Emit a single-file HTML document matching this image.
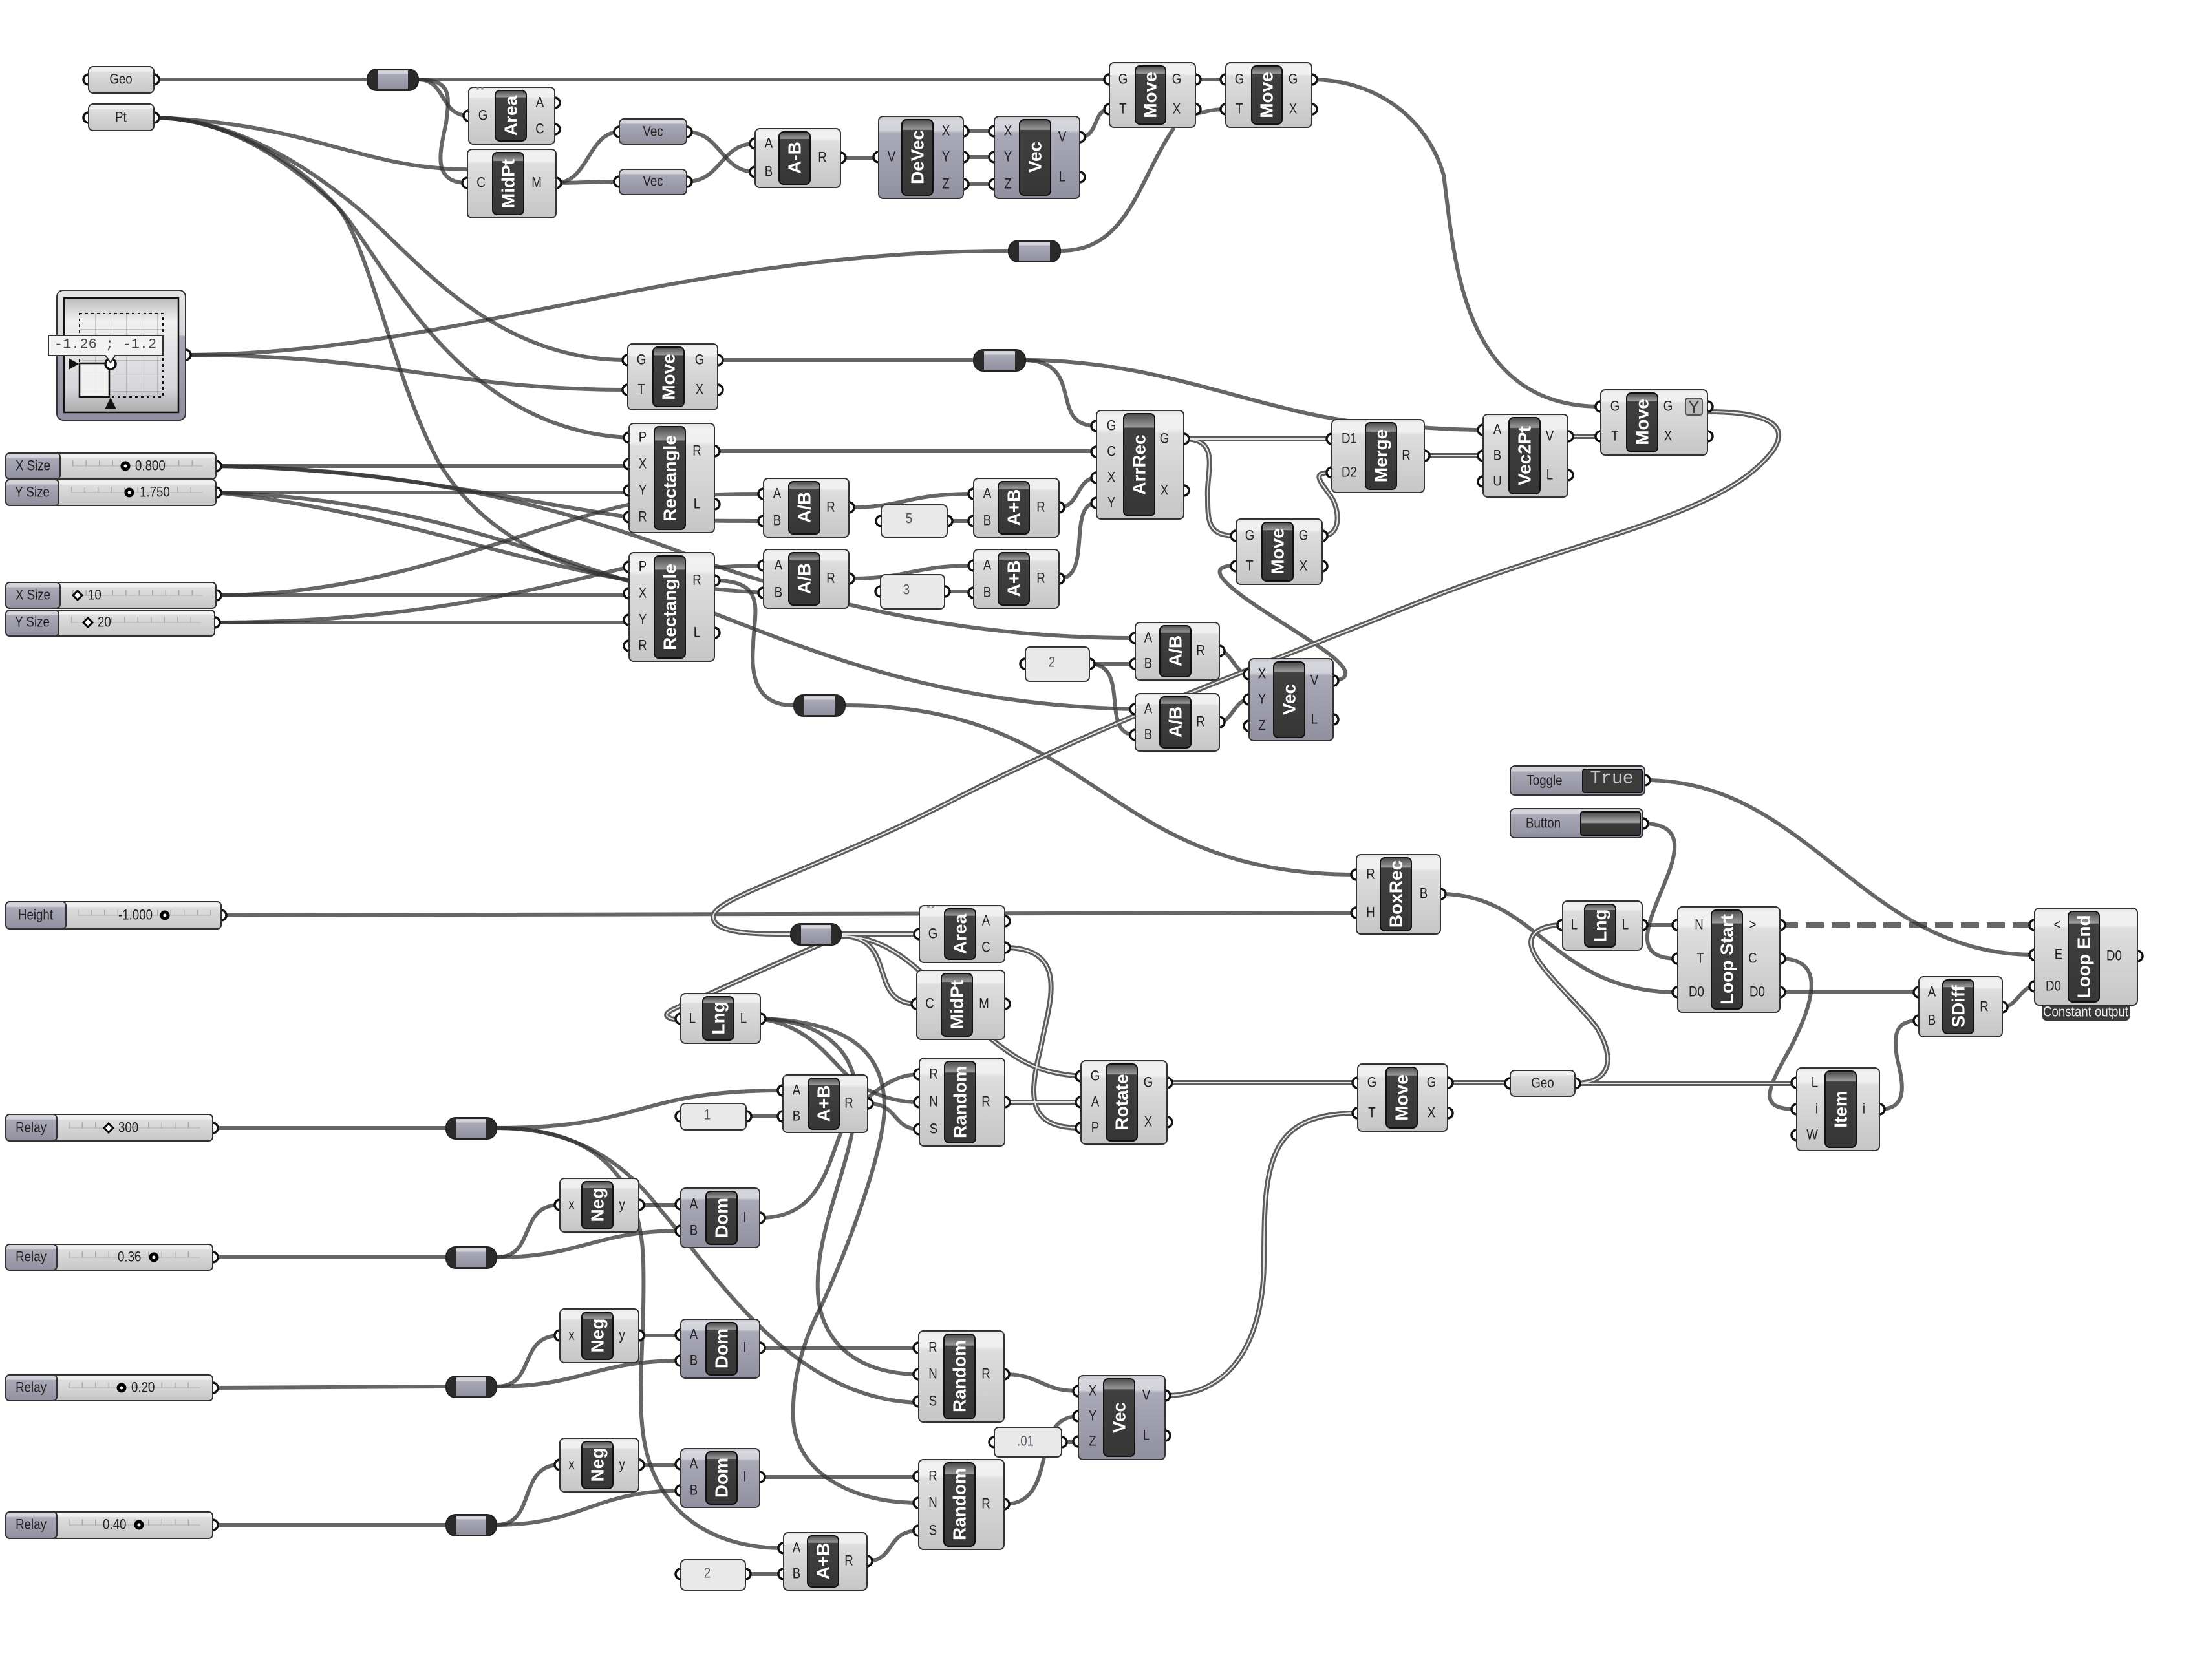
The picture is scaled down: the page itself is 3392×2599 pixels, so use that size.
<!DOCTYPE html>
<html><head><meta charset="utf-8"><style>
html,body{margin:0;padding:0;background:#fff}
svg{display:block}
.w path{fill:none;stroke:#333;stroke-opacity:.75;stroke-width:6;stroke-linecap:round}
.dw{fill:none}
.g circle{fill:#fff;stroke:#111;stroke-width:3.5}
.n{fill:url(#gn);stroke:#333;stroke-width:2}
.p{fill:url(#gp);stroke:#333;stroke-width:2}
.c{fill:url(#gc);stroke:#111;stroke-width:2}
.f{fill:#e9e9e9;stroke:#333;stroke-width:2}
text{font-family:"Liberation Sans",sans-serif;text-anchor:middle;dominant-baseline:central;fill:#222}
.l{font-size:22px;transform-box:fill-box;transform-origin:center;transform:scaleX(.85)}
.t{font-weight:bold;font-size:28px;fill:#fff}
.m{font-size:22px;fill:#556;transform-box:fill-box;transform-origin:center;transform:scaleX(.85)}
.v{font-size:22px;text-anchor:start;transform-box:fill-box;transform-origin:left center;transform:scaleX(.85)}
.tk{fill:none;stroke:#aaa;stroke-width:9;stroke-dasharray:1.5 19}
.tl{fill:none;stroke:#bbb;stroke-width:1.5}
.th{fill:#fff;stroke:#000;stroke-width:5}
.rd{fill:#2b2b2b;stroke:#222;stroke-width:2}
.ri{fill:url(#gp)}
</style></head><body>
<svg xmlns="http://www.w3.org/2000/svg" width="3392" height="2599" viewBox="0 0 3392 2599">
<defs>
<linearGradient id="gn" x1="0" y1="0" x2="0" y2="1"><stop offset="0" stop-color="#e2e2e2"/><stop offset=".05" stop-color="#f1f1f1"/><stop offset=".17" stop-color="#f0f0f0"/><stop offset=".21" stop-color="#dedede"/><stop offset="1" stop-color="#c6c6c6"/></linearGradient>
<linearGradient id="gp" x1="0" y1="0" x2="0" y2="1"><stop offset="0" stop-color="#c4c4cc"/><stop offset=".05" stop-color="#d6d6dd"/><stop offset=".17" stop-color="#d2d2da"/><stop offset=".21" stop-color="#a9a9b8"/><stop offset="1" stop-color="#90909f"/></linearGradient>
<linearGradient id="gc" x1="0" y1="0" x2="0" y2="1"><stop offset="0" stop-color="#4a4a4a"/><stop offset=".13" stop-color="#9a9a9a"/><stop offset=".14" stop-color="#404040"/><stop offset="1" stop-color="#363636"/></linearGradient>
<linearGradient id="gb" x1="0" y1="0" x2="0" y2="1"><stop offset="0" stop-color="#444"/><stop offset=".45" stop-color="#aaa"/><stop offset=".5" stop-color="#3c3c3c"/><stop offset="1" stop-color="#333"/></linearGradient>
<linearGradient id="gm" x1="0" y1="0" x2="0" y2="1"><stop offset="0" stop-color="#e6e6e6"/><stop offset=".34" stop-color="#d6d6dc"/><stop offset=".36" stop-color="#a6a6b4"/><stop offset="1" stop-color="#8e8e9e"/></linearGradient>
<linearGradient id="gi" x1="0" y1="0" x2="0" y2="1"><stop offset="0" stop-color="#bbb"/><stop offset=".2" stop-color="#f0f0f0"/><stop offset=".8" stop-color="#d4d4da"/><stop offset="1" stop-color="#aaa"/></linearGradient>
<pattern id="gr" width="24" height="24" patternUnits="userSpaceOnUse" x="123" y="485"><path d="M0 0H24M0 0V24" stroke="#999" stroke-width="1" fill="none"/></pattern>
<g id="dbl">
<path d="M2641 637C2740 637 2770 660 2740 700C2660 800 2450 830 2191 933C1900 1050 1700 1120 1450 1250C1250 1350 1103 1390 1103 1418C1103 1445 1170 1445 1223 1445"/>
<path d="M1301 1445H1422"/>
<path d="M1301 1448C1390 1448 1340 1553 1418 1553"/>
<path d="M1301 1448C1400 1448 1450 1540 1534 1608C1580 1645 1610 1660 1672 1665"/>
<path d="M1301 1448C1280 1455 1180 1500 1098 1537C1060 1555 1020 1565 1034 1574C1040 1578 1048 1577 1053 1577"/>
<path d="M1554 1466C1660 1466 1620 1560 1610 1620C1590 1700 1590 1745 1672 1745"/>
<path d="M1554 1705H1672"/>
<path d="M1805 1675H2100"/>
<path d="M1802 2159C1920 2159 1955 2050 1955 1950C1955 1800 1960 1722 2100 1722"/>
<path d="M2239 1675H2336"/>
<path d="M2436 1676H2779"/>
<path d="M2436 1676C2490 1676 2500 1640 2470 1590C2440 1550 2368 1490 2368 1458C2368 1440 2390 1431 2417 1431"/>
<path d="M1831 679H2060"/>
<path d="M1831 679C1890 679 1865 730 1868 770C1868 810 1870 829 1912 829"/>
<path d="M2045 829C2075 829 2072 790 2060 770C2038 740 2030 731 2060 731"/>
<path d="M2203 705H2294"/>
<path d="M2425 675H2476"/>
</g>
</defs>

<!-- wires -->
<g class="w">
<path d="M238 123H568"/><path d="M647 123H1716"/>
<path d="M647 123C690 123 680 179 725 179"/>
<path d="M647 123C700 123 695 150 690 190C682 230 665 283 723 283"/>
<path d="M238 182C480 190 560 262 723 262"/>
<path d="M860 283C910 283 910 204 958 204"/>
<path d="M860 283C900 283 915 281 958 281"/>
<path d="M1062 204C1115 204 1115 266 1168 266"/>
<path d="M1062 281C1115 281 1115 222 1168 222"/>
<path d="M1300 244H1359"/>
<path d="M1490 203H1538"/><path d="M1490 243H1538"/><path d="M1490 285H1538"/>
<path d="M1670 212C1700 212 1690 169 1716 169"/>
<path d="M1640 388C1745 388 1760 280 1815 199"/>
<path d="M1849 123H1896"/><path d="M1849 176C1870 172 1875 169 1896 169"/>
<path d="M2029 123C2120 123 2205 175 2233 271C2250 400 2260 629 2476 629"/>
<path d="M287 549C700 549 1050 388 1560 388"/>
<path d="M287 549C600 549 700 603 971 603"/>
<path d="M238 182C340 182 450 235 557 325C640 395 760 558 971 557"/>
<path d="M238 182C340 182 430 235 521 319C590 390 700 665 973 677"/>
<path d="M238 182C340 182 450 240 521 319C570 375 610 590 679 716C730 800 820 870 975 898C1040 885 1100 875 1181 875"/>
<path d="M334 721H973"/><path d="M334 762H973"/>
<path d="M334 721C600 725 800 775 973 800C1050 806 1120 806 1181 806"/>
<path d="M334 721C620 725 860 775 1106 875C1300 940 1500 987 1756 987"/>
<path d="M334 762C620 770 800 845 975 900C1200 980 1400 1090 1756 1097"/>
<path d="M334 762C600 790 760 860 975 898C1040 905 1100 912 1181 917"/>
<path d="M334 921H973"/>
<path d="M334 921C600 921 800 820 975 780C1050 765 1120 764 1181 764"/>
<path d="M332 963H973"/>
<path d="M332 963C600 963 780 925 973 877"/>
<path d="M1105 698H1696"/>
<path d="M1105 898C1190 898 1165 950 1165 1000C1160 1060 1180 1091 1226 1091"/>
<path d="M1465 806H1506"/>
<path d="M1313 785C1400 785 1400 764 1506 764"/>
<path d="M1638 785C1670 785 1665 739 1696 739"/>
<path d="M1638 895C1690 895 1650 778 1696 778"/>
<path d="M1313 895C1410 895 1410 875 1506 875"/>
<path d="M1461 915H1506"/>
<path d="M1685 1027H1756"/>
<path d="M1685 1027C1750 1027 1700 1137 1756 1137"/>
<path d="M1886 1007C1905 1007 1910 1043 1932 1043"/>
<path d="M1886 1117C1905 1117 1910 1082 1932 1082"/>
<path d="M2062 1053C2095 1050 2085 1030 2035 997C1990 966 1900 915 1888 890C1882 878 1895 875 1912 875"/>
<path d="M342 1416L2098 1412"/>
<path d="M1307 1091C1700 1091 1700 1353 2098 1353"/>
<path d="M2228 1383C2380 1383 2400 1535 2595 1535"/>
<path d="M2544 1207C2800 1207 2880 1477 3147 1477"/>
<path d="M2541 1274C2620 1274 2585 1340 2565 1390C2545 1440 2530 1483 2595 1483"/>
<path d="M2540 1431H2595"/>
<path d="M2753 1431H3147" style="stroke-dasharray:28 12;stroke-width:8;stroke-linecap:butt"/>
<path d="M2753 1483C2830 1483 2800 1560 2770 1620C2730 1690 2720 1716 2779 1716"/>
<path d="M2753 1535H2968"/>
<path d="M3097 1558C3120 1558 3125 1526 3147 1526"/>
<path d="M2907 1716C2950 1716 2945 1680 2935 1640C2925 1590 2940 1579 2968 1579"/>
<path d="M1586 557C1680 560 1620 659 1696 659"/>
<path d="M1586 557C1800 557 1950 640 2120 655C2180 660 2240 665 2294 665"/>
<path d="M1110 557H1506"/>
<path d="M1176 1884C1290 1884 1280 1760 1320 1720C1350 1690 1380 1662 1422 1662"/>
<path d="M1176 1576C1270 1590 1290 1660 1340 1685C1370 1700 1395 1705 1422 1705"/>
<path d="M1342 1707C1390 1707 1380 1747 1422 1747"/>
<path d="M1176 1576C1290 1580 1325 1640 1325 1700C1320 1800 1260 1900 1265 2000C1270 2080 1330 2126 1421 2126"/>
<path d="M1176 1576C1330 1580 1370 1640 1368 1720C1362 1800 1300 1960 1267 2027C1235 2090 1225 2150 1227 2196C1232 2280 1320 2325 1421 2325"/>
<path d="M1154 1727H1211"/>
<path d="M768 1745C1000 1745 980 1687 1211 1687"/>
<path d="M768 1745C900 1745 990 1800 995 1950C998 2060 985 2150 995 2220C1010 2330 1090 2395 1212 2395"/>
<path d="M768 1745C880 1745 960 1790 1020 1870C1100 1960 1220 2165 1421 2170"/>
<path d="M1341 2415C1385 2415 1370 2368 1421 2368"/>
<path d="M1153 2435H1212"/>
<path d="M1175 2085H1421"/><path d="M1175 2285H1421"/>
<path d="M1553 2126C1610 2126 1610 2152 1668 2152"/>
<path d="M1553 2327C1640 2327 1590 2191 1668 2191"/>
<path d="M1642 2231H1668"/>
<path d="M329 1745H690"/><path d="M329 1945H690"/><path d="M329 2147L690 2145"/><path d="M329 2359H690"/>
<path d="M768 1945C830 1945 800 1864 866 1864"/>
<path d="M768 1945C900 1945 920 1904 1053 1904"/>
<path d="M988 1864H1053"/>
<path d="M768 2145C830 2145 800 2066 866 2066"/>
<path d="M768 2145C900 2145 920 2105 1053 2105"/>
<path d="M988 2066H1053"/>
<path d="M768 2359C830 2359 800 2266 866 2266"/>
<path d="M768 2359C900 2359 920 2306 1053 2306"/>
<path d="M988 2266H1053"/>
</g>
<g class="dw"><use href="#dbl" stroke="#5c5c5c" stroke-width="8"/><use href="#dbl" stroke="#e6e6e6" stroke-width="2"/></g>

<!-- grips -->
<g class="g">
<circle cx="137" cy="123" r="8"/><circle cx="238" cy="123" r="8"/><circle cx="137" cy="182" r="8"/><circle cx="238" cy="182" r="8"/>
<circle cx="725" cy="179" r="8"/><circle cx="858" cy="159" r="8"/><circle cx="858" cy="200" r="8"/>
<circle cx="723" cy="283" r="8"/><circle cx="860" cy="283" r="8"/>
<circle cx="958" cy="204" r="8"/><circle cx="1062" cy="204" r="8"/><circle cx="958" cy="281" r="8"/><circle cx="1062" cy="281" r="8"/>
<circle cx="1168" cy="222" r="8"/><circle cx="1168" cy="266" r="8"/><circle cx="1300" cy="244" r="8"/>
<circle cx="1359" cy="243" r="8"/><circle cx="1490" cy="203" r="8"/><circle cx="1490" cy="243" r="8"/><circle cx="1490" cy="285" r="8"/>
<circle cx="1538" cy="203" r="8"/><circle cx="1538" cy="243" r="8"/><circle cx="1538" cy="285" r="8"/><circle cx="1670" cy="212" r="8"/><circle cx="1670" cy="274" r="8"/>
<circle cx="1716" cy="123" r="8"/><circle cx="1716" cy="169" r="8"/><circle cx="1849" cy="123" r="8"/><circle cx="1849" cy="169" r="8"/>
<circle cx="1896" cy="123" r="8"/><circle cx="1896" cy="169" r="8"/><circle cx="2029" cy="123" r="8"/><circle cx="2029" cy="169" r="8"/>
<circle cx="287" cy="549" r="8"/>
<circle cx="971" cy="557" r="8"/><circle cx="971" cy="603" r="8"/><circle cx="1110" cy="557" r="8"/><circle cx="1110" cy="603" r="8"/>
<circle cx="973" cy="677" r="8"/><circle cx="973" cy="718" r="8"/><circle cx="973" cy="759" r="8"/><circle cx="973" cy="800" r="8"/><circle cx="1105" cy="698" r="8"/><circle cx="1105" cy="780" r="8"/>
<circle cx="973" cy="877" r="8"/><circle cx="973" cy="918" r="8"/><circle cx="973" cy="959" r="8"/><circle cx="973" cy="999" r="8"/><circle cx="1105" cy="898" r="8"/><circle cx="1105" cy="979" r="8"/>
<circle cx="334" cy="721" r="8"/><circle cx="334" cy="762" r="8"/><circle cx="334" cy="921" r="8"/><circle cx="332" cy="963" r="8"/>
<circle cx="1181" cy="764" r="8"/><circle cx="1181" cy="806" r="8"/><circle cx="1313" cy="785" r="8"/>
<circle cx="1181" cy="875" r="8"/><circle cx="1181" cy="917" r="8"/><circle cx="1313" cy="895" r="8"/>
<circle cx="1506" cy="764" r="8"/><circle cx="1506" cy="806" r="8"/><circle cx="1638" cy="785" r="8"/>
<circle cx="1506" cy="875" r="8"/><circle cx="1506" cy="917" r="8"/><circle cx="1638" cy="895" r="8"/>
<circle cx="1363" cy="806" r="8"/><circle cx="1465" cy="806" r="8"/><circle cx="1362" cy="915" r="8"/><circle cx="1461" cy="915" r="8"/>
<circle cx="1696" cy="659" r="8"/><circle cx="1696" cy="699" r="8"/><circle cx="1696" cy="739" r="8"/><circle cx="1696" cy="778" r="8"/><circle cx="1831" cy="679" r="8"/><circle cx="1831" cy="759" r="8"/>
<circle cx="2060" cy="679" r="8"/><circle cx="2060" cy="731" r="8"/><circle cx="2203" cy="705" r="8"/>
<circle cx="2294" cy="665" r="8"/><circle cx="2294" cy="705" r="8"/><circle cx="2294" cy="745" r="8"/><circle cx="2425" cy="675" r="8"/><circle cx="2425" cy="735" r="8"/>
<circle cx="2476" cy="629" r="8"/><circle cx="2476" cy="675" r="8"/><circle cx="2641" cy="629" r="8"/><circle cx="2641" cy="675" r="8"/>
<circle cx="1912" cy="829" r="8"/><circle cx="1912" cy="876" r="8"/><circle cx="2045" cy="829" r="8"/><circle cx="2045" cy="876" r="8"/>
<circle cx="1756" cy="987" r="8"/><circle cx="1756" cy="1027" r="8"/><circle cx="1886" cy="1007" r="8"/>
<circle cx="1756" cy="1097" r="8"/><circle cx="1756" cy="1137" r="8"/><circle cx="1886" cy="1117" r="8"/>
<circle cx="1932" cy="1043" r="8"/><circle cx="1932" cy="1082" r="8"/><circle cx="1932" cy="1123" r="8"/><circle cx="2062" cy="1053" r="8"/><circle cx="2062" cy="1113" r="8"/>
<circle cx="1586" cy="1027" r="8"/><circle cx="1685" cy="1027" r="8"/>
<circle cx="2098" cy="1353" r="8"/><circle cx="2098" cy="1412" r="8"/><circle cx="2228" cy="1383" r="8"/>
<circle cx="342" cy="1416" r="8"/><circle cx="2544" cy="1207" r="8"/><circle cx="2541" cy="1274" r="8"/>
<circle cx="2417" cy="1431" r="8"/><circle cx="2540" cy="1431" r="8"/>
<circle cx="2595" cy="1431" r="8"/><circle cx="2595" cy="1483" r="8"/><circle cx="2595" cy="1535" r="8"/><circle cx="2753" cy="1431" r="8"/><circle cx="2753" cy="1483" r="8"/><circle cx="2753" cy="1535" r="8"/>
<circle cx="3147" cy="1431" r="8"/><circle cx="3147" cy="1477" r="8"/><circle cx="3147" cy="1526" r="8"/><circle cx="3306" cy="1479" r="8"/>
<circle cx="2968" cy="1535" r="8"/><circle cx="2968" cy="1579" r="8"/><circle cx="3097" cy="1558" r="8"/>
<circle cx="2779" cy="1675" r="8"/><circle cx="2779" cy="1716" r="8"/><circle cx="2779" cy="1756" r="8"/><circle cx="2907" cy="1716" r="8"/>
<circle cx="2336" cy="1676" r="8"/><circle cx="2436" cy="1676" r="8"/>
<circle cx="2100" cy="1675" r="8"/><circle cx="2100" cy="1722" r="8"/><circle cx="2239" cy="1675" r="8"/><circle cx="2239" cy="1722" r="8"/>
<circle cx="1422" cy="1445" r="8"/><circle cx="1554" cy="1425" r="8"/><circle cx="1554" cy="1466" r="8"/>
<circle cx="1418" cy="1553" r="8"/><circle cx="1554" cy="1553" r="8"/>
<circle cx="1053" cy="1576" r="8"/><circle cx="1176" cy="1576" r="8"/>
<circle cx="1211" cy="1687" r="8"/><circle cx="1211" cy="1727" r="8"/><circle cx="1342" cy="1707" r="8"/>
<circle cx="1053" cy="1727" r="8"/><circle cx="1154" cy="1727" r="8"/>
<circle cx="1422" cy="1662" r="8"/><circle cx="1422" cy="1705" r="8"/><circle cx="1422" cy="1747" r="8"/><circle cx="1554" cy="1705" r="8"/>
<circle cx="1672" cy="1665" r="8"/><circle cx="1672" cy="1705" r="8"/><circle cx="1672" cy="1745" r="8"/><circle cx="1805" cy="1675" r="8"/><circle cx="1805" cy="1736" r="8"/>
<circle cx="329" cy="1745" r="8"/><circle cx="329" cy="1945" r="8"/><circle cx="329" cy="2147" r="8"/><circle cx="329" cy="2359" r="8"/>
<circle cx="866" cy="1864" r="8"/><circle cx="988" cy="1864" r="8"/><circle cx="866" cy="2066" r="8"/><circle cx="988" cy="2066" r="8"/><circle cx="866" cy="2266" r="8"/><circle cx="988" cy="2266" r="8"/>
<circle cx="1053" cy="1863" r="8"/><circle cx="1053" cy="1904" r="8"/><circle cx="1175" cy="1884" r="8"/>
<circle cx="1053" cy="2065" r="8"/><circle cx="1053" cy="2105" r="8"/><circle cx="1175" cy="2085" r="8"/>
<circle cx="1053" cy="2265" r="8"/><circle cx="1053" cy="2306" r="8"/><circle cx="1175" cy="2285" r="8"/>
<circle cx="1212" cy="2395" r="8"/><circle cx="1212" cy="2435" r="8"/><circle cx="1341" cy="2415" r="8"/>
<circle cx="1053" cy="2435" r="8"/><circle cx="1153" cy="2435" r="8"/>
<circle cx="1421" cy="2085" r="8"/><circle cx="1421" cy="2126" r="8"/><circle cx="1421" cy="2168" r="8"/><circle cx="1553" cy="2126" r="8"/>
<circle cx="1421" cy="2284" r="8"/><circle cx="1421" cy="2325" r="8"/><circle cx="1421" cy="2368" r="8"/><circle cx="1553" cy="2327" r="8"/>
<circle cx="1668" cy="2152" r="8"/><circle cx="1668" cy="2191" r="8"/><circle cx="1668" cy="2230" r="8"/><circle cx="1802" cy="2159" r="8"/><circle cx="1802" cy="2221" r="8"/>
<circle cx="1538" cy="2231" r="8"/><circle cx="1642" cy="2231" r="8"/>
</g>

<!-- simple params -->
<rect class="n" x="137" y="103" width="101" height="41" rx="7"/><text class="l" x="187" y="123">Geo</text>
<rect class="n" x="137" y="161" width="101" height="41" rx="7"/><text class="l" x="187" y="182">Pt</text>
<rect class="p" x="958" y="184" width="104" height="39" rx="7"/><text class="l" x="1010" y="204">Vec</text>
<rect class="p" x="958" y="262" width="104" height="39" rx="7"/><text class="l" x="1010" y="281">Vec</text>
<rect class="n" x="2336" y="1656" width="100" height="40" rx="7"/><text class="l" x="2386" y="1676">Geo</text>
<rect class="f" x="1363" y="781" width="102" height="50" rx="7"/><text class="m" x="1406" y="803">5</text>
<rect class="f" x="1362" y="889" width="99" height="53" rx="7"/><text class="m" x="1402" y="913">3</text>
<rect class="f" x="1586" y="1001" width="99" height="53" rx="7"/><text class="m" x="1627" y="1025">2</text>
<rect class="f" x="1053" y="1707" width="101" height="41" rx="7"/><text class="m" x="1094" y="1725">1</text>
<rect class="f" x="1053" y="2413" width="100" height="47" rx="7"/><text class="m" x="1094" y="2434">2</text>
<rect class="f" x="1538" y="2208" width="104" height="46" rx="7"/><text class="m" x="1586" y="2230">.01</text>

<!-- relays -->
<g>
<rect class="rd" x="568" y="107" width="79" height="33" rx="15"/><rect class="ri" x="584" y="109" width="47" height="29"/>
<rect class="rd" x="1560" y="372" width="80" height="33" rx="15"/><rect class="ri" x="1576" y="374" width="48" height="29"/>
<rect class="rd" x="1506" y="541" width="80" height="33" rx="15"/><rect class="ri" x="1522" y="543" width="48" height="29"/>
<rect class="rd" x="1228" y="1075" width="79" height="33" rx="15"/><rect class="ri" x="1244" y="1077" width="47" height="29"/>
<rect class="rd" x="1223" y="1429" width="78" height="33" rx="15"/><rect class="ri" x="1239" y="1431" width="46" height="29"/>
<rect class="rd" x="690" y="1729" width="78" height="33" rx="15"/><rect class="ri" x="706" y="1731" width="46" height="29"/>
<rect class="rd" x="690" y="1929" width="78" height="33" rx="15"/><rect class="ri" x="706" y="1931" width="46" height="29"/>
<rect class="rd" x="690" y="2129" width="78" height="33" rx="15"/><rect class="ri" x="706" y="2131" width="46" height="29"/>
<rect class="rd" x="690" y="2343" width="78" height="33" rx="15"/><rect class="ri" x="706" y="2345" width="46" height="29"/>
</g>

<!-- graph mapper -->
<rect x="88" y="449" width="199" height="201" rx="10" fill="url(#gm)" stroke="#333" stroke-width="2"/>
<rect x="99" y="461" width="177" height="177" fill="url(#gi)" stroke="#111" stroke-width="2.5"/>
<rect x="123" y="485" width="129" height="129" fill="url(#gr)"/>
<rect x="123" y="562" width="46" height="52" fill="#f4f4f4" fill-opacity=".85" stroke="#111" stroke-width="2.5"/>
<rect x="123" y="485" width="129" height="129" fill="none" stroke="#111" stroke-width="2" stroke-dasharray="4 5"/>
<path d="M106 554V572L122 563Z" fill="#111"/><path d="M171 615L162 633H180Z" fill="#111"/>
<circle cx="171" cy="563" r="8" fill="#fff" stroke="#111" stroke-width="3.5"/>
<path d="M75 519H252V550H178L171 561L163 550H75Z" fill="#f2f2f2" stroke="#333" stroke-width="2"/>
<text x="163" y="533" style="font-family:'Liberation Mono',monospace;font-size:22px;fill:#444">-1.26 ; -1.2</text>

<!-- sliders -->
<rect class="n" x="9" y="701" width="325" height="40" rx="6"/><rect class="p" x="9" y="701" width="84" height="40" rx="6"/><text class="l" x="51" y="721">X Size</text>
<path class="tl" d="M112 721H313"/><path class="tk" d="M112 717H314"/><text class="v" x="209" y="721">0.800</text><circle class="th" cx="194" cy="721" r="5"/>
<rect class="n" x="9" y="742" width="325" height="40" rx="6"/><rect class="p" x="9" y="742" width="82" height="40" rx="6"/><text class="l" x="50" y="762">Y Size</text>
<path class="tl" d="M110 762H313"/><path class="tk" d="M110 758H314"/><text class="v" x="216" y="762">1.750</text><circle class="th" cx="200" cy="762" r="5"/>
<rect class="n" x="9" y="901" width="325" height="40" rx="6"/><rect class="p" x="9" y="901" width="84" height="40" rx="6"/><text class="l" x="51" y="921">X Size</text>
<path class="tl" d="M112 921H313"/><path class="tk" d="M112 917H314"/><text class="v" x="136" y="921">10</text><path class="th" style="stroke-width:3" d="M120 914L127 921L120 928L113 921Z"/>
<rect class="n" x="9" y="944" width="323" height="40" rx="6"/><rect class="p" x="9" y="944" width="82" height="40" rx="6"/><text class="l" x="50" y="963">Y Size</text>
<path class="tl" d="M110 963H311"/><path class="tk" d="M110 959H312"/><text class="v" x="151" y="963">20</text><path class="th" style="stroke-width:3" d="M136 956L143 963L136 970L129 963Z"/>

<rect class="n" x="9" y="1395" width="333" height="42" rx="6"/><rect class="p" x="9" y="1395" width="93" height="42" rx="6"/><text class="l" x="55" y="1416">Height</text>
<path class="tl" d="M120 1416H325"/><path class="tk" d="M120 1412H326"/><text class="v" x="183" y="1416">-1.000</text><circle class="th" cx="255" cy="1416" r="5"/>

<rect class="n" x="9" y="1724" width="320" height="41" rx="6"/><rect class="p" x="9" y="1724" width="79" height="41" rx="6"/><text class="l" x="48" y="1745">Relay</text>
<path class="tl" d="M106 1745H310"/><path class="tk" d="M106 1741H311"/><text class="v" x="183" y="1745">300</text><path class="th" style="stroke-width:3" d="M168 1738L175 1745L168 1752L161 1745Z"/>
<rect class="n" x="9" y="1925" width="320" height="40" rx="6"/><rect class="p" x="9" y="1925" width="79" height="40" rx="6"/><text class="l" x="48" y="1945">Relay</text>
<path class="tl" d="M106 1945H310"/><path class="tk" d="M106 1941H311"/><text class="v" x="182" y="1945">0.36</text><circle class="th" cx="238" cy="1945" r="5"/>
<rect class="n" x="9" y="2127" width="320" height="40" rx="6"/><rect class="p" x="9" y="2127" width="79" height="40" rx="6"/><text class="l" x="48" y="2147">Relay</text>
<path class="tl" d="M106 2147H310"/><path class="tk" d="M106 2143H311"/><text class="v" x="203" y="2147">0.20</text><circle class="th" cx="188" cy="2147" r="5"/>
<rect class="n" x="9" y="2339" width="320" height="41" rx="6"/><rect class="p" x="9" y="2339" width="79" height="41" rx="6"/><text class="l" x="48" y="2359">Relay</text>
<path class="tl" d="M106 2359H310"/><path class="tk" d="M106 2355H311"/><text class="v" x="159" y="2359">0.40</text><circle class="th" cx="215" cy="2359" r="5"/>

<!-- toggle + button -->
<rect class="p" x="2336" y="1185" width="208" height="45" rx="7"/><text class="l" x="2389" y="1208">Toggle</text>
<rect x="2448" y="1190" width="92" height="36" rx="3" fill="#3c3c3c" stroke="#111" stroke-width="2"/><text x="2493" y="1205" style="font-family:'Liberation Mono',monospace;font-size:28px;fill:#c8c8c8">True</text>
<rect class="p" x="2336" y="1251" width="205" height="45" rx="7"/><text class="l" x="2387" y="1274">Button</text>
<rect x="2445" y="1256" width="92" height="36" rx="3" fill="url(#gb)" stroke="#111" stroke-width="2"/>

<!-- components -->
<rect class="n" x="725" y="135" width="133" height="88" rx="7"/><rect class="c" x="766" y="140" width="48" height="78" rx="7"/><text class="t" transform="translate(790 179) rotate(-90)">Area</text><text class="l" x="747" y="179">G</text><text class="l" x="835" y="159">A</text><text class="l" x="835" y="200">C</text>
<circle cx="739" cy="137" r="2" fill="#999"/><circle cx="746" cy="137" r="2" fill="#999"/>
<rect class="n" x="723" y="231" width="137" height="106" rx="7"/><rect class="c" x="762" y="236" width="48" height="96" rx="7"/><text class="t" transform="translate(786 284) rotate(-90)">MidPt</text><text class="l" x="744" y="283">C</text><text class="l" x="830" y="283">M</text>
<rect class="n" x="1168" y="199" width="132" height="91" rx="7"/><rect class="c" x="1205" y="204" width="48" height="81" rx="7"/><text class="t" transform="translate(1229 244) rotate(-90)">A-B</text><text class="l" x="1189" y="222">A</text><text class="l" x="1189" y="266">B</text><text class="l" x="1272" y="244">R</text>
<rect class="p" x="1359" y="180" width="131" height="127" rx="7"/><rect class="c" x="1395" y="185" width="48" height="117" rx="7"/><text class="t" transform="translate(1419 243) rotate(-90)">DeVec</text><text class="l" x="1379" y="243">V</text><text class="l" x="1463" y="203">X</text><text class="l" x="1463" y="243">Y</text><text class="l" x="1463" y="285">Z</text>
<rect class="p" x="1538" y="180" width="132" height="127" rx="7"/><rect class="c" x="1577" y="185" width="48" height="117" rx="7"/><text class="t" transform="translate(1601 243) rotate(-90)">Vec</text><text class="l" x="1559" y="203">X</text><text class="l" x="1559" y="243">Y</text><text class="l" x="1559" y="285">Z</text><text class="l" x="1643" y="212">V</text><text class="l" x="1643" y="274">L</text>
<rect class="n" x="1716" y="97" width="133" height="100" rx="7"/><rect class="c" x="1756" y="102" width="47" height="90" rx="7"/><text class="t" transform="translate(1779 147) rotate(-90)">Move</text><text class="l" x="1737" y="123">G</text><text class="l" x="1737" y="169">T</text><text class="l" x="1820" y="123">G</text><text class="l" x="1820" y="169">X</text>
<rect class="n" x="1896" y="97" width="133" height="100" rx="7"/><rect class="c" x="1936" y="102" width="47" height="90" rx="7"/><text class="t" transform="translate(1959 147) rotate(-90)">Move</text><text class="l" x="1917" y="123">G</text><text class="l" x="1917" y="169">T</text><text class="l" x="2000" y="123">G</text><text class="l" x="2000" y="169">X</text>
<rect class="n" x="971" y="532" width="139" height="102" rx="7"/><rect class="c" x="1010" y="537" width="48" height="92" rx="7"/><text class="t" transform="translate(1034 583) rotate(-90)">Move</text><text class="l" x="992" y="557">G</text><text class="l" x="992" y="603">T</text><text class="l" x="1082" y="557">G</text><text class="l" x="1082" y="603">X</text>
<rect class="n" x="973" y="655" width="132" height="169" rx="7"/><rect class="c" x="1012" y="660" width="48" height="159" rx="7"/><text class="t" transform="translate(1036 740) rotate(-90)">Rectangle</text><text class="l" x="994" y="677">P</text><text class="l" x="994" y="718">X</text><text class="l" x="994" y="759">Y</text><text class="l" x="994" y="800">R</text><text class="l" x="1078" y="698">R</text><text class="l" x="1078" y="780">L</text>
<rect class="n" x="973" y="855" width="132" height="168" rx="7"/><rect class="c" x="1012" y="860" width="48" height="158" rx="7"/><text class="t" transform="translate(1036 939) rotate(-90)">Rectangle</text><text class="l" x="994" y="877">P</text><text class="l" x="994" y="918">X</text><text class="l" x="994" y="959">Y</text><text class="l" x="994" y="999">R</text><text class="l" x="1078" y="898">R</text><text class="l" x="1078" y="979">L</text>
<rect class="n" x="1181" y="740" width="132" height="91" rx="7"/><rect class="c" x="1220" y="745" width="48" height="81" rx="7"/><text class="t" transform="translate(1244 785) rotate(-90)">A/B</text><text class="l" x="1202" y="764">A</text><text class="l" x="1202" y="806">B</text><text class="l" x="1285" y="785">R</text>
<rect class="n" x="1181" y="850" width="132" height="91" rx="7"/><rect class="c" x="1220" y="855" width="48" height="81" rx="7"/><text class="t" transform="translate(1244 895) rotate(-90)">A/B</text><text class="l" x="1204" y="875">A</text><text class="l" x="1204" y="917">B</text><text class="l" x="1285" y="895">R</text>
<rect class="n" x="1506" y="740" width="132" height="91" rx="7"/><rect class="c" x="1544" y="745" width="48" height="81" rx="7"/><text class="t" transform="translate(1568 785) rotate(-90)">A+B</text><text class="l" x="1527" y="764">A</text><text class="l" x="1527" y="806">B</text><text class="l" x="1610" y="785">R</text>
<rect class="n" x="1506" y="850" width="132" height="91" rx="7"/><rect class="c" x="1544" y="855" width="48" height="81" rx="7"/><text class="t" transform="translate(1568 895) rotate(-90)">A+B</text><text class="l" x="1527" y="875">A</text><text class="l" x="1527" y="917">B</text><text class="l" x="1610" y="895">R</text>
<rect class="n" x="1696" y="635" width="135" height="168" rx="7"/><rect class="c" x="1738" y="640" width="48" height="158" rx="7"/><text class="t" transform="translate(1762 719) rotate(-90)">ArrRec</text><text class="l" x="1719" y="659">G</text><text class="l" x="1719" y="699">C</text><text class="l" x="1719" y="739">X</text><text class="l" x="1719" y="778">Y</text><text class="l" x="1801" y="679">G</text><text class="l" x="1801" y="759">X</text>
<rect class="n" x="2060" y="649" width="143" height="113" rx="7"/><rect class="c" x="2112" y="654" width="48" height="103" rx="7"/><text class="t" transform="translate(2136 705) rotate(-90)">Merge</text><text class="l" x="2087" y="679">D1</text><text class="l" x="2087" y="731">D2</text><text class="l" x="2175" y="705">R</text>
<rect class="n" x="2294" y="641" width="131" height="128" rx="7"/><rect class="c" x="2334" y="646" width="48" height="118" rx="7"/><text class="t" transform="translate(2358 705) rotate(-90)">Vec2Pt</text><text class="l" x="2316" y="665">A</text><text class="l" x="2316" y="705">B</text><text class="l" x="2316" y="745">U</text><text class="l" x="2397" y="675">V</text><text class="l" x="2397" y="735">L</text>
<rect class="n" x="2476" y="603" width="165" height="101" rx="7"/><rect class="c" x="2516" y="608" width="48" height="91" rx="7"/><text class="t" transform="translate(2540 653) rotate(-90)">Move</text><text class="l" x="2498" y="629">G</text><text class="l" x="2498" y="675">T</text><text class="l" x="2580" y="629">G</text><text class="l" x="2580" y="675">X</text>
<rect x="2607" y="616" width="26" height="26" rx="4" fill="#bbb" stroke="#555" stroke-width="2"/><path d="M2613 620L2620 630L2627 620M2620 630V639" fill="none" stroke="#333" stroke-width="2"/>
<rect class="n" x="1912" y="803" width="133" height="101" rx="7"/><rect class="c" x="1952" y="808" width="48" height="91" rx="7"/><text class="t" transform="translate(1976 853) rotate(-90)">Move</text><text class="l" x="1933" y="829">G</text><text class="l" x="1933" y="876">T</text><text class="l" x="2016" y="829">G</text><text class="l" x="2016" y="876">X</text>
<rect class="n" x="1756" y="963" width="130" height="89" rx="7"/><rect class="c" x="1794" y="968" width="48" height="79" rx="7"/><text class="t" transform="translate(1818 1007) rotate(-90)">A/B</text><text class="l" x="1776" y="987">A</text><text class="l" x="1776" y="1027">B</text><text class="l" x="1857" y="1007">R</text>
<rect class="n" x="1756" y="1073" width="130" height="89" rx="7"/><rect class="c" x="1794" y="1078" width="48" height="79" rx="7"/><text class="t" transform="translate(1818 1117) rotate(-90)">A/B</text><text class="l" x="1776" y="1097">A</text><text class="l" x="1776" y="1137">B</text><text class="l" x="1857" y="1117">R</text>
<rect class="p" x="1932" y="1019" width="130" height="127" rx="7"/><rect class="c" x="1970" y="1024" width="48" height="117" rx="7"/><text class="t" transform="translate(1994 1082) rotate(-90)">Vec</text><text class="l" x="1952" y="1043">X</text><text class="l" x="1952" y="1082">Y</text><text class="l" x="1952" y="1123">Z</text><text class="l" x="2033" y="1053">V</text><text class="l" x="2033" y="1113">L</text>
<rect class="n" x="2098" y="1322" width="130" height="123" rx="7"/><rect class="c" x="2135" y="1327" width="48" height="113" rx="7"/><text class="t" transform="translate(2159 1383) rotate(-90)">BoxRec</text><text class="l" x="2120" y="1353">R</text><text class="l" x="2120" y="1412">H</text><text class="l" x="2202" y="1383">B</text>
<rect class="n" x="2417" y="1394" width="123" height="76" rx="7"/><rect class="c" x="2451" y="1399" width="48" height="66" rx="7"/><text class="t" transform="translate(2475 1432) rotate(-90)">Lng</text><text class="l" x="2435" y="1431">L</text><text class="l" x="2514" y="1431">L</text>
<rect class="n" x="2595" y="1403" width="158" height="163" rx="7"/><rect class="c" x="2647" y="1408" width="48" height="153" rx="7"/><text class="t" transform="translate(2671 1484) rotate(-90)">Loop Start</text><text class="l" x="2628" y="1431">N</text><text class="l" x="2630" y="1483">T</text><text class="l" x="2624" y="1535">D0</text><text class="l" x="2711" y="1431">&gt;</text><text class="l" x="2711" y="1483">C</text><text class="l" x="2718" y="1535">D0</text>
<rect x="3159" y="1545" width="135" height="34" rx="6" fill="#3a3a3a"/><text class="l" x="3226" y="1566" style="font-size:22px;fill:#eee">Constant output</text>
<rect class="n" x="3147" y="1405" width="159" height="150" rx="7"/><rect class="c" x="3199" y="1410" width="48" height="140" rx="7"/><text class="t" transform="translate(3223 1480) rotate(-90)">Loop End</text><text class="l" x="3182" y="1431">&lt;</text><text class="l" x="3184" y="1477">E</text><text class="l" x="3176" y="1526">D0</text><text class="l" x="3270" y="1479">D0</text>
<rect class="n" x="2968" y="1511" width="129" height="93" rx="7"/><rect class="c" x="3005" y="1516" width="48" height="83" rx="7"/><text class="t" transform="translate(3029 1557) rotate(-90)">SDiff</text><text class="l" x="2988" y="1535">A</text><text class="l" x="2988" y="1579">B</text><text class="l" x="3069" y="1558">R</text>
<rect class="n" x="2779" y="1652" width="128" height="128" rx="7"/><rect class="c" x="2823" y="1657" width="48" height="118" rx="7"/><text class="t" transform="translate(2847 1716) rotate(-90)">Item</text><text class="l" x="2807" y="1675">L</text><text class="l" x="2810" y="1716">i</text><text class="l" x="2803" y="1756">W</text><text class="l" x="2883" y="1716">i</text>
<rect class="n" x="1422" y="1401" width="132" height="88" rx="7"/><rect class="c" x="1461" y="1406" width="48" height="78" rx="7"/><text class="t" transform="translate(1485 1445) rotate(-90)">Area</text><text class="l" x="1443" y="1445">G</text><text class="l" x="1525" y="1425">A</text><text class="l" x="1525" y="1466">C</text>
<circle cx="1436" cy="1403" r="2" fill="#999"/><circle cx="1443" cy="1403" r="2" fill="#999"/>
<rect class="n" x="1418" y="1501" width="136" height="107" rx="7"/><rect class="c" x="1456" y="1506" width="48" height="97" rx="7"/><text class="t" transform="translate(1480 1554) rotate(-90)">MidPt</text><text class="l" x="1438" y="1553">C</text><text class="l" x="1522" y="1553">M</text>
<rect class="n" x="1053" y="1537" width="123" height="77" rx="7"/><rect class="c" x="1087" y="1542" width="48" height="67" rx="7"/><text class="t" transform="translate(1111 1575) rotate(-90)">Lng</text><text class="l" x="1071" y="1576">L</text><text class="l" x="1150" y="1576">L</text>
<rect class="n" x="1211" y="1663" width="131" height="89" rx="7"/><rect class="c" x="1250" y="1668" width="48" height="79" rx="7"/><text class="t" transform="translate(1274 1707) rotate(-90)">A+B</text><text class="l" x="1232" y="1687">A</text><text class="l" x="1232" y="1727">B</text><text class="l" x="1313" y="1707">R</text>
<rect class="n" x="1422" y="1637" width="132" height="136" rx="7"/><rect class="c" x="1461" y="1642" width="48" height="126" rx="7"/><text class="t" transform="translate(1485 1705) rotate(-90)">Random</text><text class="l" x="1444" y="1662">R</text><text class="l" x="1444" y="1705">N</text><text class="l" x="1444" y="1747">S</text><text class="l" x="1525" y="1705">R</text>
<rect class="n" x="1672" y="1641" width="133" height="129" rx="7"/><rect class="c" x="1711" y="1646" width="48" height="119" rx="7"/><text class="t" transform="translate(1735 1705) rotate(-90)">Rotate</text><text class="l" x="1694" y="1665">G</text><text class="l" x="1694" y="1705">A</text><text class="l" x="1694" y="1745">P</text><text class="l" x="1776" y="1675">G</text><text class="l" x="1776" y="1736">X</text>
<rect class="n" x="2100" y="1646" width="139" height="104" rx="7"/><rect class="c" x="2144" y="1651" width="48" height="94" rx="7"/><text class="t" transform="translate(2168 1698) rotate(-90)">Move</text><text class="l" x="2122" y="1675">G</text><text class="l" x="2122" y="1722">T</text><text class="l" x="2214" y="1675">G</text><text class="l" x="2214" y="1722">X</text>

<rect class="n" x="866" y="1823" width="122" height="83" rx="7"/><rect class="c" x="900" y="1828" width="48" height="73" rx="7"/><text class="t" transform="translate(924 1864) rotate(-90)">Neg</text><text class="l" x="884" y="1864">x</text><text class="l" x="962" y="1864">y</text>
<rect class="n" x="866" y="2025" width="122" height="83" rx="7"/><rect class="c" x="900" y="2030" width="48" height="73" rx="7"/><text class="t" transform="translate(924 2066) rotate(-90)">Neg</text><text class="l" x="884" y="2066">x</text><text class="l" x="962" y="2066">y</text>
<rect class="n" x="866" y="2225" width="122" height="83" rx="7"/><rect class="c" x="900" y="2230" width="48" height="73" rx="7"/><text class="t" transform="translate(924 2266) rotate(-90)">Neg</text><text class="l" x="884" y="2266">x</text><text class="l" x="962" y="2266">y</text>
<rect class="p" x="1053" y="1838" width="122" height="92" rx="7"/><rect class="c" x="1092" y="1843" width="48" height="82" rx="7"/><text class="t" transform="translate(1116 1884) rotate(-90)">Dom</text><text class="l" x="1073" y="1863">A</text><text class="l" x="1073" y="1904">B</text><text class="l" x="1152" y="1884">I</text>
<rect class="p" x="1053" y="2041" width="122" height="91" rx="7"/><rect class="c" x="1092" y="2046" width="48" height="81" rx="7"/><text class="t" transform="translate(1116 2086) rotate(-90)">Dom</text><text class="l" x="1073" y="2065">A</text><text class="l" x="1073" y="2105">B</text><text class="l" x="1152" y="2085">I</text>
<rect class="p" x="1053" y="2241" width="122" height="91" rx="7"/><rect class="c" x="1092" y="2246" width="48" height="81" rx="7"/><text class="t" transform="translate(1116 2286) rotate(-90)">Dom</text><text class="l" x="1073" y="2265">A</text><text class="l" x="1073" y="2306">B</text><text class="l" x="1152" y="2285">I</text>
<rect class="n" x="1212" y="2371" width="129" height="89" rx="7"/><rect class="c" x="1249" y="2376" width="48" height="79" rx="7"/><text class="t" transform="translate(1273 2415) rotate(-90)">A+B</text><text class="l" x="1232" y="2395">A</text><text class="l" x="1232" y="2435">B</text><text class="l" x="1313" y="2415">R</text>
<rect class="n" x="1421" y="2059" width="132" height="141" rx="7"/><rect class="c" x="1460" y="2064" width="48" height="131" rx="7"/><text class="t" transform="translate(1484 2129) rotate(-90)">Random</text><text class="l" x="1443" y="2085">R</text><text class="l" x="1443" y="2126">N</text><text class="l" x="1443" y="2168">S</text><text class="l" x="1525" y="2126">R</text>
<rect class="n" x="1421" y="2258" width="132" height="139" rx="7"/><rect class="c" x="1460" y="2263" width="48" height="129" rx="7"/><text class="t" transform="translate(1484 2327) rotate(-90)">Random</text><text class="l" x="1443" y="2284">R</text><text class="l" x="1443" y="2325">N</text><text class="l" x="1443" y="2368">S</text><text class="l" x="1525" y="2327">R</text>
<rect class="p" x="1668" y="2128" width="134" height="130" rx="7"/><rect class="c" x="1707" y="2133" width="48" height="120" rx="7"/><text class="t" transform="translate(1731 2193) rotate(-90)">Vec</text><text class="l" x="1690" y="2152">X</text><text class="l" x="1690" y="2191">Y</text><text class="l" x="1690" y="2230">Z</text><text class="l" x="1773" y="2159">V</text><text class="l" x="1773" y="2221">L</text>
</svg>
</body></html>
